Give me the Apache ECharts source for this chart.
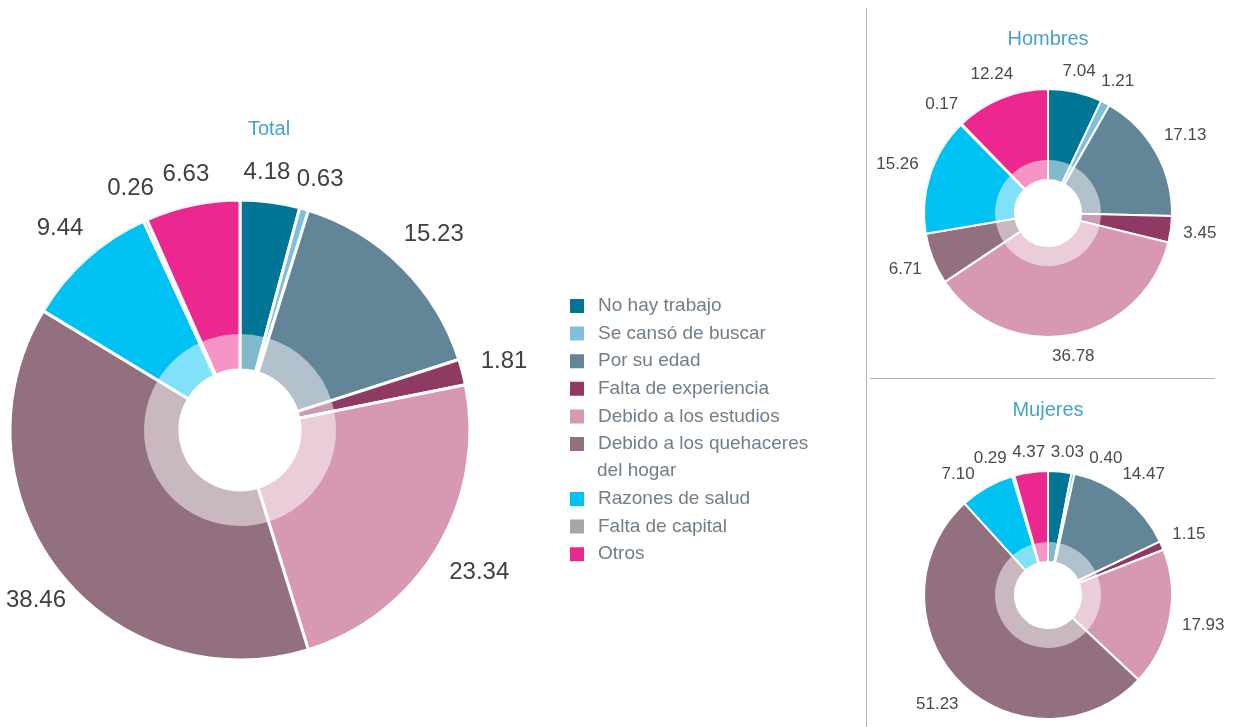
<!DOCTYPE html>
<html>
<head>
<meta charset="utf-8">
<title>Razones para no buscar trabajo</title>
<script src="https://cdn.jsdelivr.net/npm/echarts@6/dist/echarts.min.js"></script>
<style>
  html, body { margin: 0; padding: 0; background: #fff; }
  #chart { width: 1236px; height: 727px; }
</style>
</head>
<body>
<div id="chart"></div>
<script>
// categorías (orden del gráfico, en sentido horario desde arriba)
const categories = [
  'No hay trabajo',
  'Se cansó de buscar',
  'Por su edad',
  'Falta de experiencia',
  'Debido a los estudios',
  'Debido a los quehaceres del hogar',
  'Razones de salud',
  'Falta de capital',
  'Otros'
]

// porcentajes
const totalValues = [4.18, 0.63, 15.23, 1.81, 23.34, 38.46, 9.44, 0.26, 6.63]
const hombresValues = [7.04, 1.21, 17.13, 3.45, 36.78, 6.71, 15.26, 0.17, 12.24]
const mujeresValues = [3.03, 0.40, 14.47, 1.15, 17.93, 51.23, 7.10, 0.29, 4.37]

const colors = ['#007596', '#80bfdb', '#638598', '#8f3a62', '#d698b3', '#93707f', '#00c2f2', '#a6a7ab', '#ec2890']

const FONT = '"Liberation Sans", Arial, Helvetica, sans-serif'
const TITLE_COLOR = '#46a3c6'
const WIDTH = 1236

const chart = echarts.init(document.getElementById('chart'))

const toData = values => categories.map((name, i) => ({
  name,
  value: values[i],
  itemStyle: { color: colors[i] }
}))

const measureCtx = document.createElement('canvas').getContext('2d')

// posiciones de etiquetas justo fuera del borde; las que chocan se separan girando
const labelPositions = (values, cx, cy, r, gap, fontSize) => {
  measureCtx.font = `${fontSize}px ${FONT}`
  const sum = values.reduce((a, b) => a + b, 0)
  let acc = 0
  const items = values.map(v => {
    const mid = (acc + v / 2) / sum * 2 * Math.PI
    acc += v
    return { t: mid, w: measureCtx.measureText(v.toFixed(2)).width, h: fontSize * 0.72 }
  })
  const place = it => {
    const sx = Math.sin(it.t)
    const cy2 = Math.cos(it.t)
    const d = r + gap + Math.abs(sx) * it.w / 2 + Math.abs(cy2) * it.h / 2
    it.x = cx + d * sx
    it.y = cy - d * cy2
  }
  items.forEach(place)
  for (let iter = 0; iter < 400; iter++) {
    let moved = false
    for (let a = 0; a < items.length; a++) {
      for (let b = a + 1; b < items.length; b++) {
        const A = items[a]
        const B = items[b]
        const ox = Math.abs(A.x - B.x) < (A.w + B.w) / 2 + 5
        const oy = Math.abs(A.y - B.y) < (A.h + B.h) / 2 + 3
        if (ox && oy) {
          let diff = B.t - A.t
          while (diff > Math.PI) diff -= 2 * Math.PI
          while (diff < -Math.PI) diff += 2 * Math.PI
          const s = diff >= 0 ? 0.003 : -0.003
          A.t -= s
          B.t += s
          place(A)
          place(B)
          moved = true
        }
      }
    }
    if (!moved) break
  }
  // que no se salgan del lienzo
  items.forEach(it => { it.x = Math.min(Math.max(it.x, it.w / 2 + 6), WIDTH - it.w / 2 - 2) })
  return items
}

// pastel con borde blanco y anillo interior aclarado
const buildPie = (values, center, r, opts) => {
  const data = toData(values)
  const labels = labelPositions(values, center[0], center[1], r.outer, opts.gap, opts.fontSize)
  const common = {
    type: 'pie',
    center,
    startAngle: 90,
    clockwise: true,
    avoidLabelOverlap: false,
    emphasis: { disabled: true },
    labelLine: { show: false },
    animation: false
  }
  return [
    {
      ...common,
      radius: [r.hole, r.outer],
      data,
      itemStyle: { borderColor: '#fff', borderWidth: opts.border },
      label: {
        show: true,
        position: 'inside',
        formatter: p => p.value.toFixed(2),
        fontFamily: FONT,
        fontSize: opts.fontSize,
        color: opts.labelColor,
        overflow: 'none'
      },
      labelLayout: params => ({
        x: labels[params.dataIndex].x,
        y: labels[params.dataIndex].y,
        align: 'center',
        verticalAlign: 'middle'
      })
    },
    {
      ...common,
      silent: true,
      radius: [r.hole, r.inner],
      data: data.map(d => ({ name: d.name, value: d.value })),
      itemStyle: { color: 'rgba(255,255,255,0.5)', borderWidth: 0 },
      label: { show: false }
    }
  ]
}

const series = [
  ...buildPie(totalValues, [240, 430],
    { hole: 60, inner: 96, outer: 230 },
    { border: 3, fontSize: 24, labelColor: '#404040', gap: 18 }),
  ...buildPie(hombresValues, [1048, 213],
    { hole: 33, inner: 53, outer: 124 },
    { border: 2, fontSize: 17, labelColor: '#4a4a4a', gap: 12 }),
  ...buildPie(mujeresValues, [1048, 595],
    { hole: 33, inner: 53, outer: 124 },
    { border: 2, fontSize: 17, labelColor: '#4a4a4a', gap: 12 })
]

const legendText = {
  fontFamily: FONT,
  fontSize: 19,
  lineHeight: 20,
  color: '#6f7e88',
  padding: [0, 0, 0, 8]
}

const titleStyle = { fontFamily: FONT, fontSize: 20, fontWeight: 'normal', color: TITLE_COLOR, lineHeight: 24 }

const option = {
  backgroundColor: '#fff',
  title: [
    { text: 'Total', left: 269, top: 117, textAlign: 'center', padding: 0, textStyle: titleStyle },
    { text: 'Hombres', left: 1048, top: 27, textAlign: 'center', padding: 0, textStyle: titleStyle },
    { text: 'Mujeres', left: 1048, top: 398, textAlign: 'center', padding: 0, textStyle: titleStyle }
  ],
  legend: [
    {
      orient: 'vertical',
      left: 568,
      top: 296,
      padding: 0,
      itemWidth: 16,
      itemHeight: 16,
      itemGap: 7.6,
      icon: 'rect',
      selectedMode: false,
      data: categories.slice(0, 6),
      formatter: name => name === 'Debido a los quehaceres del hogar' ? 'Debido a los quehaceres' : name,
      textStyle: legendText
    },
    {
      orient: 'vertical',
      left: 568,
      top: 489,
      padding: 0,
      itemWidth: 16,
      itemHeight: 16,
      itemGap: 7.6,
      icon: 'rect',
      selectedMode: false,
      data: categories.slice(6),
      textStyle: legendText
    }
  ],
  graphic: [
    // segunda línea de la leyenda larga
    {
      type: 'text',
      left: 597,
      top: 461,
      style: { text: 'del hogar', fontFamily: FONT, fontSize: 19, lineHeight: 20, fill: '#6f7e88' }
    },
    // separadores
    {
      type: 'line',
      shape: { x1: 866.5, y1: 8, x2: 866.5, y2: 727 },
      style: { stroke: '#b4b4b4', lineWidth: 1 }
    },
    {
      type: 'line',
      shape: { x1: 870, y1: 378.5, x2: 1215, y2: 378.5 },
      style: { stroke: '#b4b4b4', lineWidth: 1 }
    }
  ],
  series
}

chart.setOption(option)

window.addEventListener('resize', () => chart.resize())
</script>
</body>
</html>
